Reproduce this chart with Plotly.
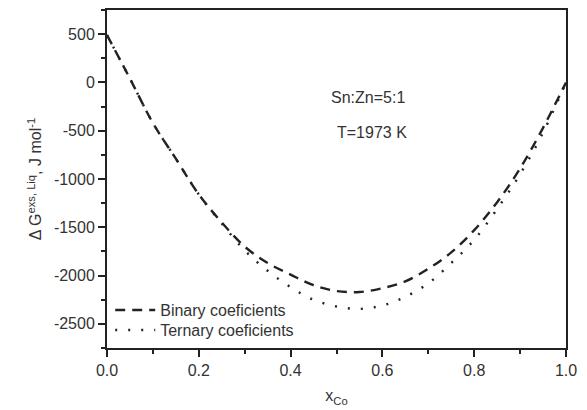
import plotly.graph_objects as go

x_co = [0.0, 0.05, 0.1, 0.15, 0.2, 0.25, 0.3, 0.35, 0.4, 0.45, 0.5,
        0.55, 0.6, 0.65, 0.7, 0.75, 0.8, 0.85, 0.9, 0.95, 1.0]
binary_g = [490, 40, -420, -790, -1160, -1450, -1700, -1870, -1990, -2100, -2160,
            -2170, -2130, -2060, -1930, -1760, -1530, -1240, -890, -470, 0]
ternary_g = [490, 40, -420, -790, -1160, -1460, -1740, -1950, -2120, -2250, -2320,
             -2345, -2310, -2220, -2080, -1870, -1630, -1310, -950, -520, 0]

series_names = ["Binary coeficients", "Ternary coeficients"]
annot_texts = ["Sn:Zn=5:1", "T=1973 K"]
x_ticks = [0.0, 0.2, 0.4, 0.6, 0.8, 1.0]
y_ticks = [500, 0, -500, -1000, -1500, -2000, -2500]

ink = "#222222"
font = dict(family="Liberation Sans, Arial, sans-serif", size=16, color="#333333")

fig = go.Figure()
fig.add_trace(go.Scatter(x=x_co, y=binary_g, mode="lines", name=series_names[0],
                         line=dict(color=ink, width=2.4, dash="10px,7px", shape="spline"),
                         legend="legend"))
fig.add_trace(go.Scatter(x=x_co, y=ternary_g, mode="lines", name=series_names[1],
                         line=dict(color=ink, width=2.4, dash="2px,11px", shape="spline"),
                         legend="legend2"))

fig.add_annotation(x=0.568, y=-155, xref="x", yref="y", text=annot_texts[0],
                   showarrow=False, font=font, xanchor="center", yanchor="middle")
fig.add_annotation(x=0.577, y=-520, xref="x", yref="y", text=annot_texts[1],
                   showarrow=False, font=font, xanchor="center", yanchor="middle")

axis_common = dict(showline=True, linecolor=ink, linewidth=2, mirror=True,
                   ticks="outside", ticklen=7, tickwidth=2, tickcolor=ink,
                   showgrid=False, zeroline=False, tickfont=font)

fig.update_xaxes(range=[0, 1], tickvals=x_ticks, ticktext=[f"{v:.1f}" for v in x_ticks],
                 minor=dict(ticks="outside", ticklen=4, tickwidth=2, tickcolor=ink, dtick=0.1),
                 title=dict(text="x<sub>Co</sub>", font=font, standoff=12),
                 **axis_common)
fig.update_yaxes(range=[-2750, 750], tickvals=y_ticks, ticktext=[str(v) for v in y_ticks],
                 minor=dict(ticks="outside", ticklen=4, tickwidth=2, tickcolor=ink, dtick=250),
                 title=dict(text="Δ G<sup>exs, Liq</sup>, J mol<sup>-1</sup>", font=font, standoff=8),
                 **axis_common)

legend_common = dict(xanchor="left", yanchor="middle", bgcolor="rgba(0,0,0,0)",
                     font=font, itemwidth=40)
fig.update_layout(
    width=587, height=410,
    margin=dict(l=107, r=21, t=8, b=62),
    plot_bgcolor="white", paper_bgcolor="white",
    font=font,
    showlegend=True,
    legend=dict(x=0.007, y=0.112, **legend_common),
    legend2=dict(x=0.007, y=0.053, **legend_common),
)

fig.write_html("out.html", config={"displayModeBar": False},
               post_script="document.body.style.margin='0';document.body.style.padding='0';")
